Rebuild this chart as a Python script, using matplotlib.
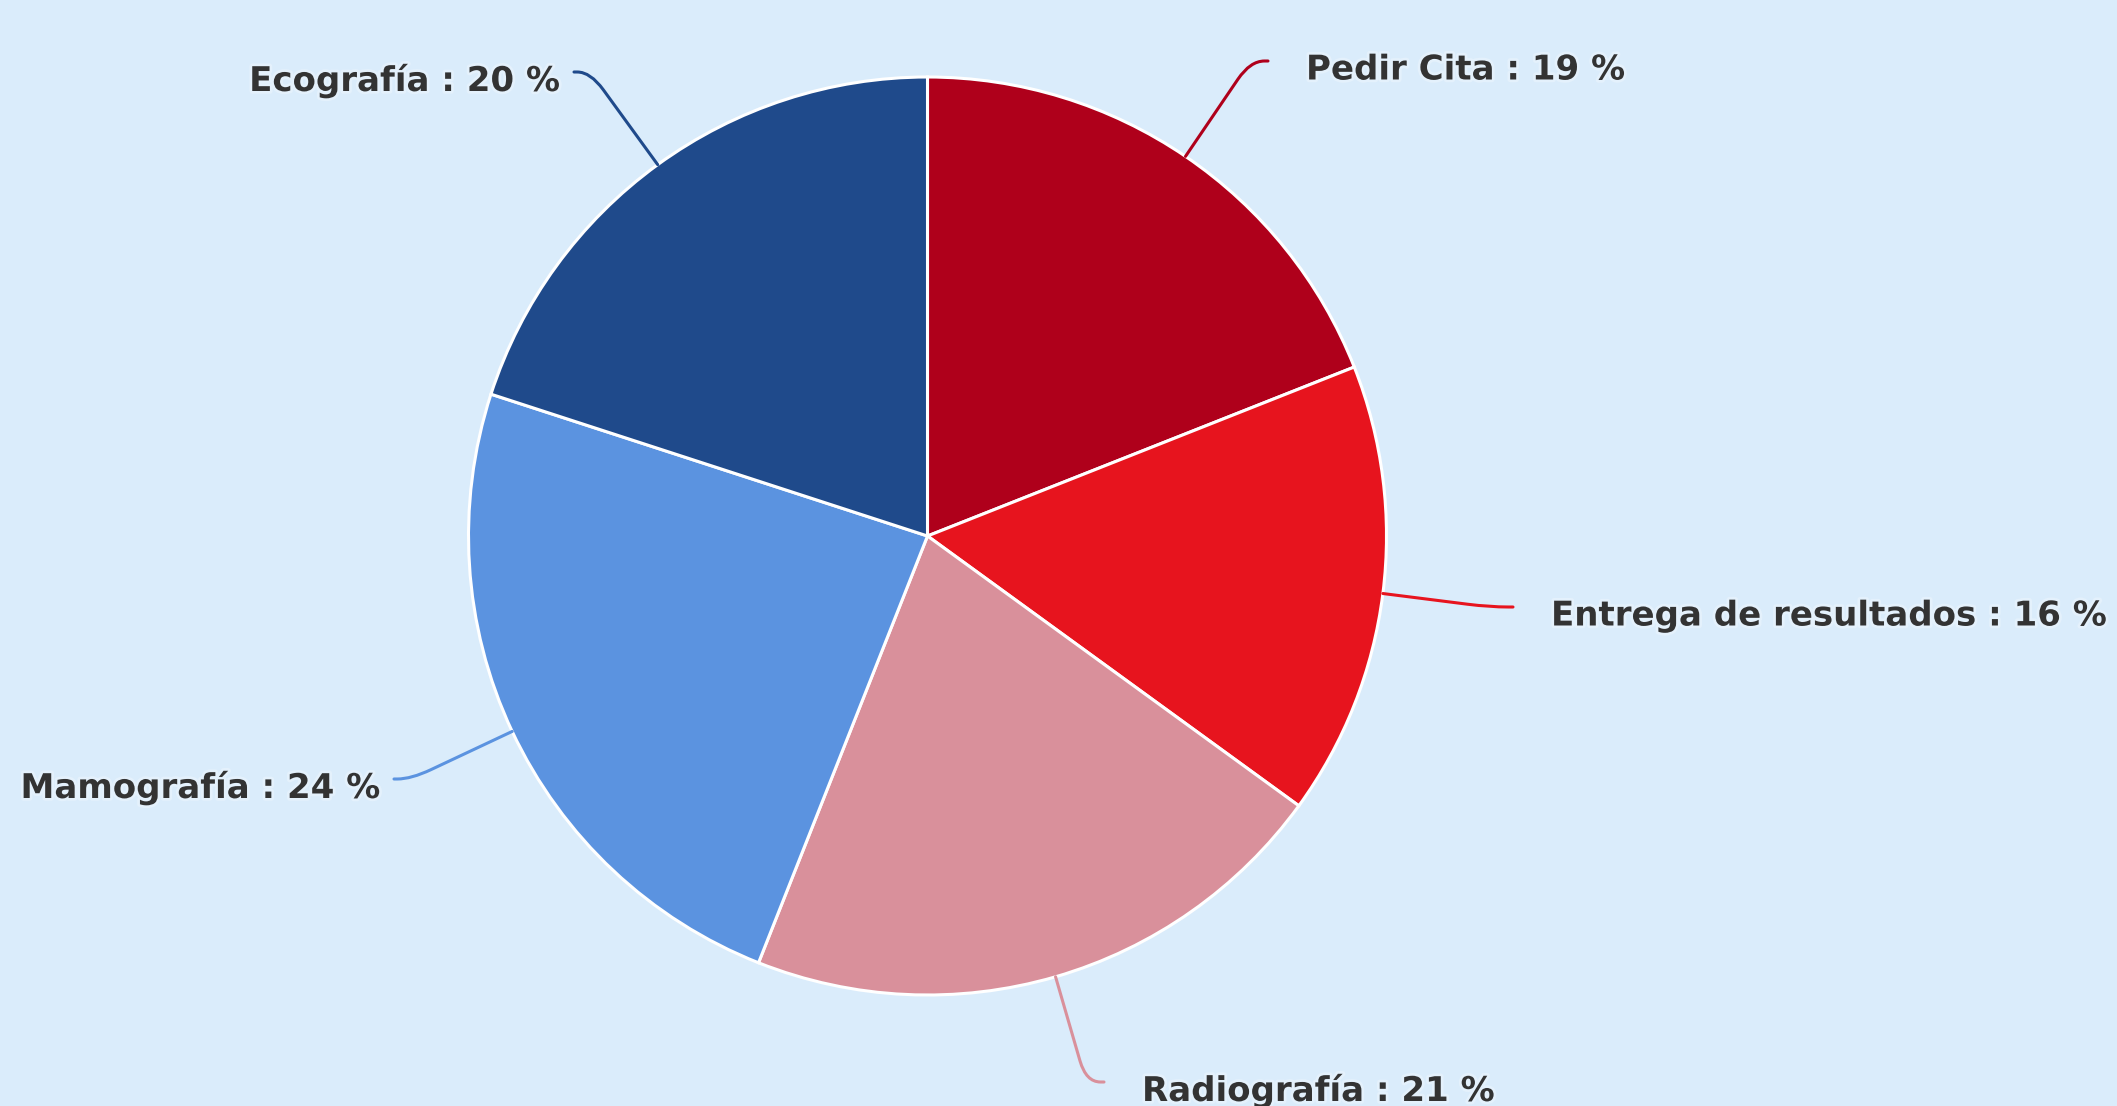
import numpy as np
import matplotlib
matplotlib.use("Agg")
import matplotlib.pyplot as plt
from matplotlib.path import Path
from matplotlib.patches import PathPatch
import matplotlib.patheffects as pe

# ---- data ----
categories = ["Pedir Cita", "Entrega de resultados", "Radiografía", "Mamografía", "Ecografía"]
values = [19, 16, 21, 24, 20]
colors = ["#AF001B", "#E7141E", "#D9909B", "#5B93E0", "#1F4A8B"]

# ---- layout (pixel units, y up) ----
W, H = 2117, 1106
BG = "#DAECFB"
cx, cy, R = 927.5, H - 536, 459
# label connector end points (image coords) and alignment
label_end = {
    "Pedir Cita": (1268, 61, "left"),
    "Entrega de resultados": (1513, 607, "left"),
    "Radiografía": (1104, 1082, "left"),
    "Mamografía": (394, 779, "right"),
    "Ecografía": (574, 72, "right"),
}

fig = plt.figure(figsize=(W / 100, H / 100), dpi=100, facecolor=BG)
ax = fig.add_axes([0, 0, 1, 1])
ax.set_facecolor(BG)

wedges, _ = ax.pie(values, colors=colors, startangle=90, counterclock=False,
                   center=(cx, cy), radius=R,
                   wedgeprops=dict(edgecolor="white", linewidth=2.2))
ax.set_xlim(0, W)
ax.set_ylim(0, H)
ax.set_aspect("equal", adjustable="datalim")
ax.axis("off")

total = sum(values)
start = 90.0
for cat, val, col in zip(categories, values, colors):
    span = 360.0 * val / total
    mid = np.deg2rad(start - span / 2)
    start -= span
    ex, ey = cx + R * np.cos(mid), cy + R * np.sin(mid)
    lx, ly_img, ha = label_end[cat]
    ly = H - ly_img
    dx, dy = np.cos(mid), np.sin(mid)
    t = (ly - ey) / dy if abs(dy) > 1e-6 else 60
    kx, ky = ex + dx * t, ey + dy * t
    r = 22
    seg1 = np.hypot(kx - ex, ky - ey)
    ax_ = kx - (kx - ex) / seg1 * min(r, seg1 * 0.5)
    ay_ = ky - (ky - ey) / seg1 * min(r, seg1 * 0.5)
    seg2 = abs(lx - kx)
    sgn = np.sign(lx - kx) if seg2 > 0 else 1
    bx, by = kx + sgn * min(r, seg2 * 0.8), ky
    verts = [(ex, ey), (ax_, ay_), (kx, ky), (bx, by), (lx, ly)]
    codes = [Path.MOVETO, Path.LINETO, Path.CURVE3, Path.CURVE3, Path.LINETO]
    ax.add_patch(PathPatch(Path(verts, codes), fill=False, edgecolor=col, lw=2.2,
                           capstyle="round", zorder=3))
    tx = lx + 38 if ha == "left" else lx - 14
    ax.text(tx, ly - 9, f"{cat} : {val} %", ha=ha, va="center",
            fontsize=24.5, fontweight="bold", color="#333333",
            family=["DejaVu Sans"],
            path_effects=[pe.withStroke(linewidth=4, foreground="#E4F1FC")],
            zorder=4)

fig.savefig("out.png", dpi=100, facecolor=BG)
